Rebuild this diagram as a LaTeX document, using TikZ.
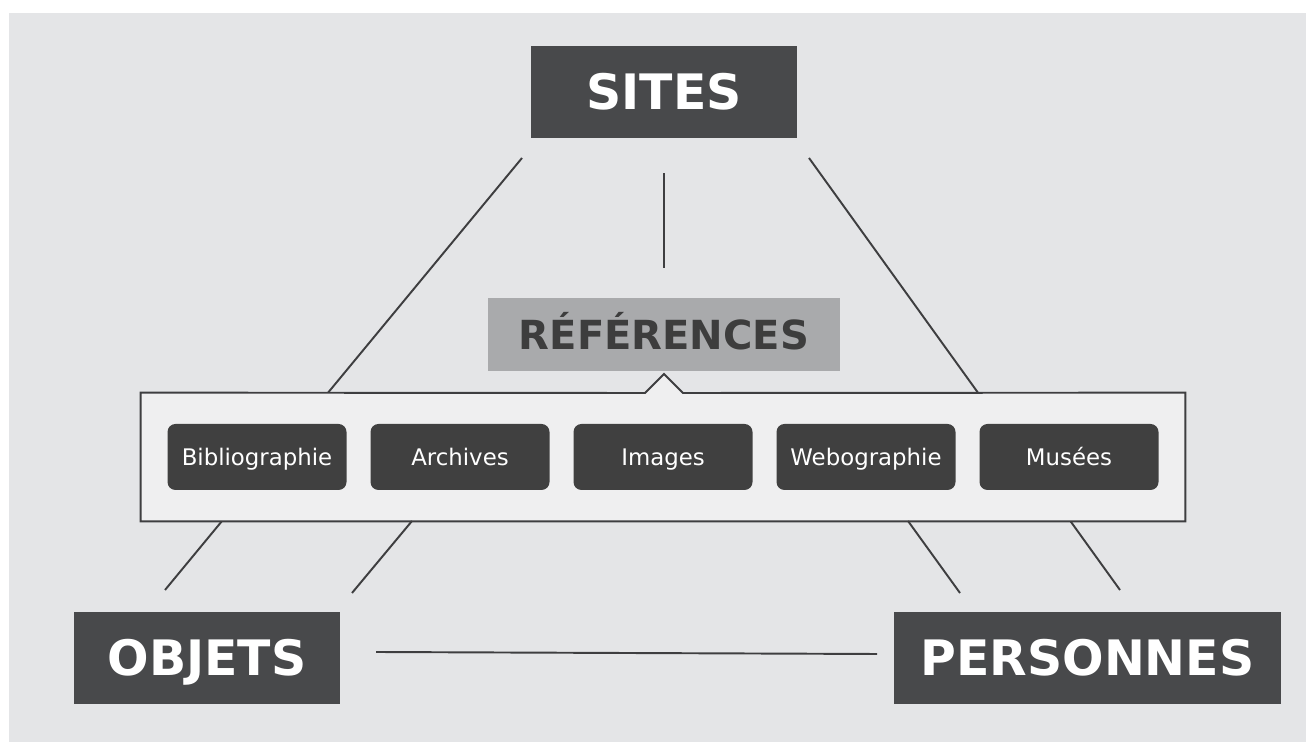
\documentclass[tikz,border=0pt]{standalone}
\usepackage{fontspec}
\setmainfont{DejaVu Sans}
\definecolor{bggrey}{HTML}{E4E5E7}
\definecolor{darkbox}{HTML}{48494B}
\definecolor{tagbox}{HTML}{404040}
\definecolor{refgrey}{HTML}{A9AAAC}
\definecolor{reftext}{HTML}{3D3D3D}
\definecolor{panelgrey}{HTML}{EFEFF0}
\definecolor{linegrey}{HTML}{3E3E40}

\begin{document}
\begin{tikzpicture}[
  bigbox/.style={fill=darkbox,text=white,inner sep=0pt,minimum height=1.84cm,
    text height=20.2pt,text depth=0pt,font=\fontsize{27.8pt}{30pt}\selectfont\bfseries},
  refbox/.style={fill=refgrey,text=reftext,inner sep=0pt,minimum width=7.04cm,minimum height=1.46cm,
    text height=16.6pt,text depth=0pt,font=\fontsize{22.8pt}{26pt}\selectfont\bfseries},
  tag/.style={fill=tagbox,text=white,rounded corners=0.16cm,inner sep=0pt,minimum width=3.58cm,
    minimum height=1.32cm,text height=9.5pt,text depth=0pt,font=\fontsize{13pt}{15pt}\selectfont},
  link/.style={draw=linegrey,line width=1.1pt}]
\useasboundingbox (0,0) rectangle (26.12,14.84);
\fill[bggrey] (0.18,0) rectangle (26.12,14.58);

% main boxes
\node[bigbox,minimum width=5.32cm] (sites) at (13.28,13.0) {SITES};
\node[bigbox,minimum width=5.32cm] (objets) at (4.14,1.68) {OBJETS};
\node[bigbox,minimum width=7.74cm] (personnes) at (21.75,1.68) {PERSONNES};
\node[refbox] (refs) at (13.28,8.15) {RÉFÉRENCES};

% free ends of the long lines
\coordinate (sitesL) at (10.44,11.68);
\coordinate (sitesR) at (16.18,11.68);
\coordinate (objetsT) at (3.30,3.04);
\coordinate (personnesT) at (22.40,3.04);

\draw[link] (sitesL) -- (objetsT);
\draw[link] (sitesR) -- (personnesT);
\draw[link,shorten <=0.70cm,shorten >=0.60cm] (sites) -- (refs);

% panel
\node[minimum width=20.88cm,minimum height=2.56cm,inner sep=0pt] (panel) at (13.26,5.70) {};
\draw[link,fill=panelgrey] (panel.north west) -- (12.90,6.98) -- (13.28,7.36) -- (13.66,6.98)
  -- (panel.north east) -- (panel.south east) -- (panel.south west) -- cycle;

\node[tag] (biblio) at (5.14,5.70) {Bibliographie};
\node[tag] (archives) at (9.20,5.70) {Archives};
\node[tag] (images) at (13.26,5.70) {Images};
\node[tag] (webo) at (17.32,5.70) {Webographie};
\node[tag] (musees) at (21.38,5.70) {Musées};

\coordinate (panelL) at (8.24,4.42);
\coordinate (panelR) at (18.16,4.42);
\coordinate (objetsR) at (7.04,2.98);
\coordinate (personnesL) at (19.20,2.98);
\coordinate (objetsE) at (7.52,1.80);
\coordinate (personnesW) at (17.54,1.76);
\draw[link] (panelL) -- (objetsR);
\draw[link] (panelR) -- (personnesL);
\draw[link] (objetsE) -- (personnesW);
\end{tikzpicture}
\end{document}
